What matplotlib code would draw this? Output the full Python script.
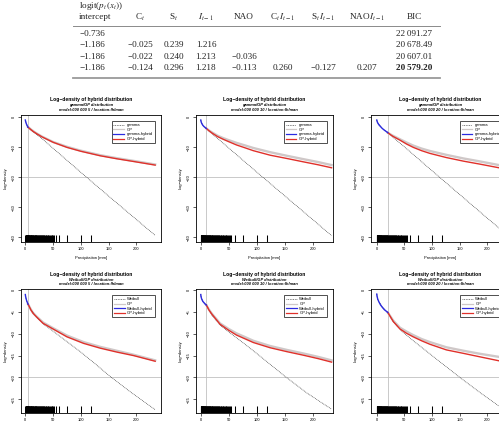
import matplotlib
matplotlib.use("Agg")
import matplotlib.pyplot as plt
from matplotlib.lines import Line2D

plt.rcParams['font.family'] = ['Liberation Sans', 'DejaVu Sans']
plt.rcParams['mathtext.fontset'] = 'stix'

W, H = 499, 422

# ---------------- table data ----------------
table_headers = ["intercept", r"C$_t$", r"S$_t$", r"$I_{t-1}$", "NAO", r"C$_t\,I_{t-1}$",
                 r"S$_t\,I_{t-1}$", r"NAO$\,I_{t-1}$", "BIC"]
table_rows = [
    ["\u22120.736", "", "", "", "", "", "", "", "22\u2009091.27"],
    ["\u22121.186", "\u22120.025", "0.239", "1.216", "", "", "", "", "20\u2009678.49"],
    ["\u22121.186", "\u22120.022", "0.240", "1.213", "\u22120.036", "", "", "", "20\u2009607.01"],
    ["\u22121.186", "\u22120.124", "0.296", "1.218", "\u22120.113", "0.260", "\u22120.127", "0.207", "20\u2009579.20"],
]

# ---------------- panel data ----------------
titles_sub1 = ["gamma/GP distribution"] * 3 + ["Weibull/GP distribution"] * 3
thresholds = [5, 10, 20, 5, 10, 20]
base_names = ["gamma"] * 3 + ["Weibull"] * 3

# rug of observations (mm)
rug_x = [0.2, 0.5, 0.8, 1.1, 1.4, 1.7, 2.0, 2.3, 2.6, 3.0, 3.4, 3.8, 4.2, 4.6, 5.0, 5.4,
         5.8, 6.2, 6.6, 7.0, 7.5, 8.0, 8.5, 9.0, 9.5, 10.0, 10.6, 11.2, 11.8, 12.4, 13.0,
         13.6, 14.2, 14.8, 15.4, 16.0, 16.7, 17.4, 18.1, 18.8, 19.5, 20.2, 21.0, 21.8,
         22.6, 23.4, 24.2, 25.0, 25.9, 26.8, 27.7, 28.6, 29.5, 30.5, 31.5, 32.5, 33.5,
         34.5, 35.6, 36.7, 37.8, 39.0, 40.3, 41.6, 43.0, 44.5, 46.0, 47.5, 49.0, 50.5,
         52.5, 55.0, 60.5, 75.0, 100.5, 118.5]

# panel 1: gamma/GP, u=5
p1_lo_x = [0.1, 0.5, 1, 2, 3, 4, 5]
p1_lo_y = [-0.9, -1.3, -1.6, -2.2, -2.6, -3.0, -3.3]
p1_hi_x = [5, 10, 15, 20, 30, 40, 50, 75, 100, 135, 165, 195, 234]
p1_hi_y = [-3.3, -4.1, -4.8, -5.4, -6.5, -7.4, -8.3, -10.0, -11.3, -12.8, -13.8, -14.7, -15.9]
p1_gp_y = [-3.2, -4.0, -4.7, -5.3, -6.4, -7.3, -8.2, -9.8, -11.1, -12.6, -13.6, -14.5, -15.7]
p1_base_x = [0.1, 1, 3, 5, 10, 20, 30, 40, 60, 100, 150, 200, 234]
p1_base_y = [-0.9, -1.6, -2.6, -3.3, -4.1, -5.6, -7.1, -8.7, -11.9, -18.3, -26.2, -34.0, -39.3]

# panel 2: gamma/GP, u=10
p2_lo_x = [0.1, 0.5, 1, 2, 4, 6, 8, 10]
p2_lo_y = [-0.9, -1.3, -1.6, -2.1, -2.7, -3.1, -3.4, -3.7]
p2_hi_x = [10, 15, 20, 30, 40, 50, 64, 80, 94, 124, 154, 183, 210, 234]
p2_hi_y = [-3.7, -4.5, -5.2, -6.4, -7.3, -8.1, -9.2, -10.2, -11.1, -12.6, -13.7, -14.8, -15.8, -16.8]
p2_gp_y = [-3.7, -4.4, -5.0, -6.1, -6.9, -7.6, -8.5, -9.4, -10.2, -11.6, -12.8, -13.9, -14.9, -15.9]
p2_base_x = [0.1, 1, 4, 10, 20, 30, 40, 60, 100, 150, 200, 234]
p2_base_y = [-0.9, -1.6, -2.7, -3.7, -5.4, -7.0, -8.6, -11.8, -18.2, -26.1, -34.0, -39.4]

# panel 3: gamma/GP, u=20
p3_lo_x = [0.1, 0.5, 1, 2, 4, 7, 10, 14, 20]
p3_lo_y = [-0.9, -1.2, -1.5, -1.9, -2.5, -3.1, -3.7, -4.3, -5.1]
p3_hi_x = [20, 25, 30, 42, 54, 66, 81, 96, 126, 157, 187, 221, 240]
p3_hi_y = [-5.1, -5.8, -6.4, -7.6, -8.9, -10.0, -11.1, -12.0, -13.4, -14.6, -15.6, -16.8, -17.4]
p3_gp_y = [-5.1, -5.7, -6.2, -7.3, -8.4, -9.4, -10.4, -11.2, -12.5, -13.7, -14.7, -15.9, -16.5]
p3_base_x = [0.1, 2, 10, 20, 30, 40, 60, 100, 150, 200, 240]
p3_base_y = [-0.9, -1.9, -3.7, -5.1, -6.7, -8.3, -11.4, -17.8, -25.7, -33.6, -39.8]

# panel 4: Weibull/GP, u=5
p4_lo_x = [0.1, 0.5, 1, 2, 3, 4, 5]
p4_lo_y = [-1.0, -1.4, -1.7, -2.2, -2.6, -2.9, -3.2]
p4_hi_x = [5, 10, 14, 20, 32, 50, 75, 105, 135, 165, 195, 234]
p4_hi_y = [-3.2, -4.5, -5.3, -6.1, -7.6, -8.9, -10.7, -12.2, -13.3, -14.2, -15.0, -16.3]
p4_gp_y = [-3.2, -4.4, -5.2, -6.0, -7.4, -8.7, -10.4, -11.9, -13.0, -13.9, -14.8, -16.1]
p4_base_x = [0.1, 1, 3, 5, 10, 20, 32, 50, 75, 100, 125, 155, 190, 234]
p4_base_y = [-1.0, -1.7, -2.6, -3.2, -4.5, -6.1, -7.7, -9.4, -11.8, -14.2, -16.8, -20.0, -23.4, -27.4]

# panel 5: Weibull/GP, u=10
p5_lo_x = [0.1, 0.5, 1, 2, 4, 6, 8, 10]
p5_lo_y = [-1.0, -1.4, -1.7, -2.1, -2.6, -2.9, -3.2, -3.4]
p5_hi_x = [10, 15, 20, 34.5, 50, 64, 80, 94, 124, 154, 183, 210, 234]
p5_hi_y = [-3.4, -4.6, -5.5, -7.8, -9.2, -10.3, -11.2, -12.0, -13.2, -14.1, -14.9, -15.7, -16.5]
p5_gp_y = [-3.4, -4.5, -5.4, -7.6, -8.9, -9.9, -10.8, -11.6, -12.8, -13.7, -14.5, -15.3, -16.1]
p5_base_x = [0.1, 1, 4, 10, 20, 34.5, 50, 75, 100, 125, 150, 190, 234]
p5_base_y = [-1.0, -1.7, -2.6, -3.4, -5.7, -8.0, -9.6, -12.0, -14.5, -17.1, -19.7, -23.6, -27.3]

# panel 6: Weibull/GP, u=20
p6_lo_x = [0.1, 0.5, 1, 2, 4, 7, 10, 14, 20]
p6_lo_y = [-0.9, -1.3, -1.6, -2.1, -2.7, -3.4, -3.9, -4.5, -5.1]
p6_hi_x = [20, 30, 42, 54, 66, 81, 96, 126, 157, 187, 221, 240]
p6_hi_y = [-5.1, -7.2, -8.9, -9.9, -10.7, -11.6, -12.4, -13.7, -14.5, -15.3, -16.2, -16.7]
p6_gp_y = [-5.1, -7.0, -8.6, -9.5, -10.3, -11.2, -11.9, -13.1, -13.9, -14.6, -15.3, -15.7]
p6_base_x = [0.1, 2, 10, 20, 30, 42, 60, 80, 100, 125, 150, 190, 240]
p6_base_y = [-0.9, -2.1, -3.9, -5.1, -7.2, -9.0, -11.0, -13.0, -15.0, -17.5, -20.0, -23.8, -28.3]

panels = [
    (p1_lo_x, p1_lo_y, p1_hi_x, p1_hi_y, p1_gp_y, p1_base_x, p1_base_y),
    (p2_lo_x, p2_lo_y, p2_hi_x, p2_hi_y, p2_gp_y, p2_base_x, p2_base_y),
    (p3_lo_x, p3_lo_y, p3_hi_x, p3_hi_y, p3_gp_y, p3_base_x, p3_base_y),
    (p4_lo_x, p4_lo_y, p4_hi_x, p4_hi_y, p4_gp_y, p4_base_x, p4_base_y),
    (p5_lo_x, p5_lo_y, p5_hi_x, p5_hi_y, p5_gp_y, p5_base_x, p5_base_y),
    (p6_lo_x, p6_lo_y, p6_hi_x, p6_hi_y, p6_gp_y, p6_base_x, p6_base_y),
]

# ---------------- layout (pixels) ----------------
boxes = [(21, 115, 161, 241.7), (196, 115, 333, 241.7), (371, 115, 509, 241.7),
         (21, 289.3, 161, 412.7), (196, 289.3, 333, 412.7), (371, 289.3, 509, 412.7)]
xlims = [(-7.7, 244.5), (-8.4, 236.5), (-10.3, 239)] * 2
ylims_top = (-41.4, 0.77)
ylims_bot = (-28.1, 0.2)

fig = plt.figure(figsize=(W / 100, H / 100), dpi=100)
fig.patch.set_facecolor("white")


def fx(px):
    return px / W


def fy(py):
    return 1 - py / H


# ---------------- table ----------------
serif = ['Liberation Serif', 'DejaVu Serif']
col_x = [79, 140, 174, 206, 244, 283, 323, 367, 414]
row_y = [33.7, 45, 57, 68.3]
fs_tab = 6.6
tcol = "#222222"
fig.text(fx(79), fy(5.7), r"logit($p_t\,(x_t)$)", family=serif, fontsize=fs_tab,
         ha="left", va="center", color=tcol)
for i, h in enumerate(table_headers):
    fig.text(fx(col_x[i]), fy(17.3), h, family=serif, fontsize=fs_tab,
             ha="left" if i == 0 else "center", va="center", color=tcol)
for r, row in enumerate(table_rows):
    for i, v in enumerate(row):
        if not v:
            continue
        bold = (r == 3 and i == 8)
        fig.text(fx(col_x[i] if i else 79), fy(row_y[r]), v, family=serif, fontsize=fs_tab,
                 ha="left" if i == 0 else "center", va="center", color=tcol,
                 fontweight="bold" if bold else "normal")
fig.add_artist(Line2D([fx(73.3), fx(440)], [fy(26), fy(26)], color="#8a8a8a", lw=0.7))
fig.add_artist(Line2D([fx(73.3), fx(440)], [fy(77.7), fy(77.7)], color="#9a9a9a", lw=1.3))

# ---------------- panels ----------------
c_red = "#e0302a"
c_blue = "#2a2ae0"
c_gp = "#cfc8c8"
c_thr = "#c0c0c0"
fs_tick = 2.9

for k, (box, data) in enumerate(zip(boxes, panels)):
    l, t, r, b = box
    ax = fig.add_axes([fx(l), fy(b), (r - l) / W, (b - t) / H])
    lo_x, lo_y, hi_x, hi_y, gp_y, base_x, base_y = data
    u = thresholds[k]
    top = k < 3
    ylim = ylims_top if top else ylims_bot

    ax.axvline(u, color=c_thr, lw=0.6, zorder=1)
    ax.axhline(-20, color=c_thr, lw=0.6, zorder=1)
    ax.plot(hi_x, gp_y, color=c_gp, lw=1.7, zorder=2)
    ax.plot(base_x, base_y, color="#333333", lw=0.5, ls=(0, (1.2, 1.2)), zorder=3)
    ax.plot(hi_x, hi_y, color=c_red, lw=1.0, zorder=4)
    ax.plot(lo_x, lo_y, color=c_blue, lw=1.0, zorder=4)
    rug_len = (ylim[1] - ylim[0]) * 0.055
    ax.vlines(rug_x, ylim[0], ylim[0] + rug_len, color="black", lw=0.75, zorder=5)

    ax.set_xlim(*xlims[k])
    ax.set_ylim(*ylim)
    ax.set_xticks([0, 50, 100, 150, 200])
    ax.set_yticks([0, -10, -20, -30, -40] if top else [0, -5, -10, -15, -20, -25])
    ax.tick_params(direction="out", length=2.2, width=0.45, labelsize=fs_tick, pad=1.8,
                   colors="black")
    for lab in ax.get_yticklabels():
        lab.set_rotation(90)
        lab.set_va("center")
    for s in ax.spines.values():
        s.set_linewidth(0.6)
    ax.set_ylabel("Log\u2212density", fontsize=2.9, labelpad=2.5)
    ax.set_xlabel("Precipitation [mm]", fontsize=2.9, labelpad=3.5)

    cx = (l + r) / 2
    fig.text(fx(cx), fy(t - 15), "Log\u2212density of hybrid distribution", fontsize=3.6,
             fontweight="bold", ha="center", va="center")
    fig.text(fx(cx), fy(t - 9.6), titles_sub1[k], fontsize=2.9, fontweight="bold",
             style="italic", ha="center", va="center")
    fig.text(fx(cx), fy(t - 5), "model:000 000 %d / location:Ihlman" % u, fontsize=2.9,
             style="italic", fontweight="bold", ha="center", va="center")

    name = base_names[k]
    handles = [Line2D([], [], color="#333333", lw=0.5, ls=(0, (1.2, 1.2))),
               Line2D([], [], color=c_gp, lw=0.9),
               Line2D([], [], color=c_blue, lw=0.9),
               Line2D([], [], color=c_red, lw=0.9)]
    labels = [name, "GP", name + "-hybrid", "GP-hybrid"]
    leg = ax.legend(handles, labels, loc="upper right",
                    bbox_to_anchor=(0.955, 0.95), fontsize=3.0, frameon=True,
                    fancybox=False, borderpad=0.45, labelspacing=0.15,
                    handlelength=2.6, handletextpad=0.6, borderaxespad=0)
    leg.get_frame().set_edgecolor("#222222")
    leg.get_frame().set_linewidth(0.7)

fig.savefig("out.png", dpi=100, facecolor="white")
